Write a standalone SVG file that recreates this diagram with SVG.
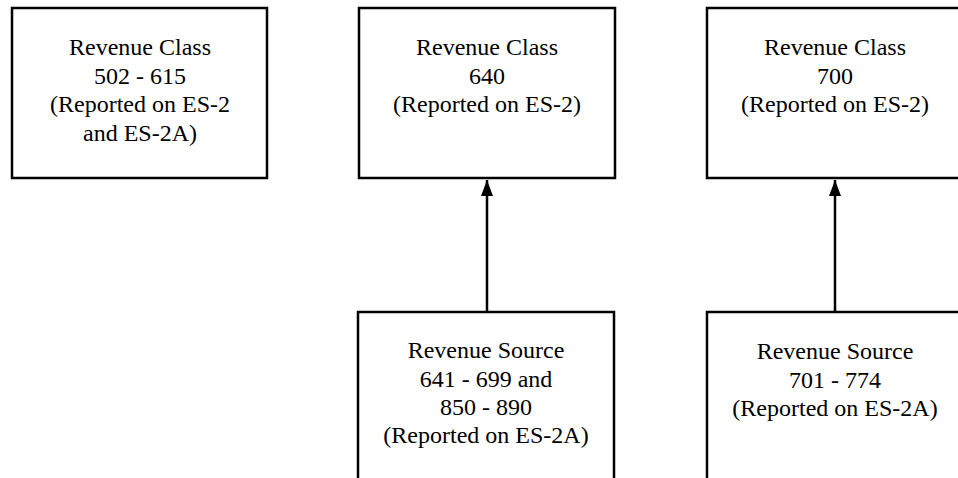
<svg xmlns="http://www.w3.org/2000/svg" width="958" height="478" viewBox="0 0 958 478">
<style>
.box{fill:#fff;stroke:#000;stroke-width:2.5}
.t{font-family:"Liberation Serif","Times New Roman",serif;font-size:24px;fill:#000;text-anchor:middle}
.c{stroke:#000;stroke-width:2.5;fill:none}
</style>
<defs>
<marker id="ah" markerUnits="userSpaceOnUse" markerWidth="16" markerHeight="12" viewBox="0 0 16 12" refX="16" refY="6" orient="auto">
<path d="M0 0 L16 6 L0 12 Z" fill="#000"/>
</marker>
</defs>
<rect width="958" height="478" fill="#fff"/>
<g id="connectors">
<line class="c" x1="487" y1="312" x2="487" y2="180" marker-end="url(#ah)"/>
<line class="c" x1="835" y1="312" x2="835" y2="180" marker-end="url(#ah)"/>
</g>
<g id="n1">
<rect class="box" x="12" y="8" width="255" height="170"/>
<text class="t" x="140" y="55">Revenue Class</text>
<text class="t" x="140" y="84">502 - 615</text>
<text class="t" x="140" y="112">(Reported on ES-2</text>
<text class="t" x="140" y="141">and ES-2A)</text>
</g>
<g id="n2">
<rect class="box" x="359" y="8" width="256" height="170"/>
<text class="t" x="487" y="55">Revenue Class</text>
<text class="t" x="487" y="84">640</text>
<text class="t" x="487" y="112">(Reported on ES-2)</text>
</g>
<g id="n3">
<rect class="box" x="707" y="8" width="256" height="170"/>
<text class="t" x="835" y="55">Revenue Class</text>
<text class="t" x="835" y="84">700</text>
<text class="t" x="835" y="112">(Reported on ES-2)</text>
</g>
<g id="n4">
<rect class="box" x="358" y="312" width="256" height="180"/>
<text class="t" x="486" y="358">Revenue Source</text>
<text class="t" x="486" y="387">641 - 699 and</text>
<text class="t" x="486" y="415">850 - 890</text>
<text class="t" x="486" y="443">(Reported on ES-2A)</text>
</g>
<g id="n5">
<rect class="box" x="707" y="312" width="256" height="180"/>
<text class="t" x="835" y="359">Revenue Source</text>
<text class="t" x="835" y="388">701 - 774</text>
<text class="t" x="835" y="416">(Reported on ES-2A)</text>
</g>
</svg>
